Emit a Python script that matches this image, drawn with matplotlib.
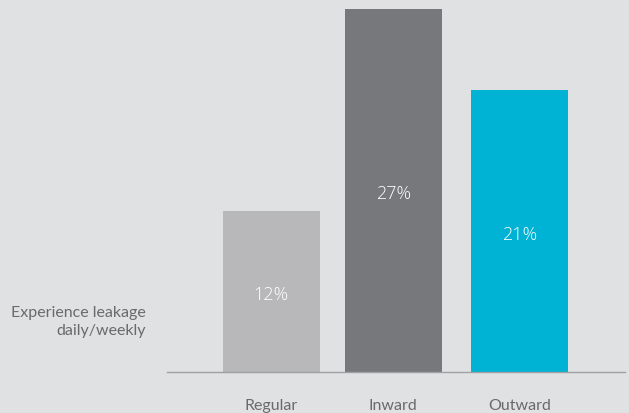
import matplotlib
matplotlib.use('Agg')
import matplotlib.pyplot as plt

categories = ['Regular', 'Inward', 'Outward']
values = [12, 27, 21]
colors = ['#b8b8ba', '#77787b', '#00b2d3']

plt.rcParams['font.family'] = ['Lato', 'DejaVu Sans']

fig = plt.figure(figsize=(6.29, 4.14), dpi=100, facecolor='#e0e1e3')
ax = fig.add_axes([0.2655, 0.099, 0.728, 0.901])
ax.set_facecolor('#e0e1e3')

x = [0, 0.984, 2.0]
ax.bar(x, values, width=0.78, color=colors)
for xi, v in zip(x, values):
    ax.annotate(f'{v}%', (xi, v / 2), xytext=(0, -2), textcoords='offset points',
                ha='center', va='center', color='white',
                fontsize=13, family='Open Sans', fontweight='light')

ax.set_xlim(-0.84, 2.85)
ax.set_ylim(0, 27.74)
ax.set_xticks(x)
ax.set_xticklabels(categories, fontsize=11.5, color='#6a6a6c')
ax.tick_params(axis='x', length=0, pad=19)
ax.set_yticks([])
for s in ['top', 'right', 'left']:
    ax.spines[s].set_visible(False)
ax.spines['bottom'].set_color('#a0a0a2')
ax.spines['bottom'].set_linewidth(1)

fig.text(146 / 629, 1 - 322 / 414, 'Experience leakage\ndaily/weekly', ha='right', va='center',
         fontsize=11.5, color='#6a6a6c', linespacing=1.4)

fig.savefig('out.png', dpi=100, facecolor=fig.get_facecolor())
